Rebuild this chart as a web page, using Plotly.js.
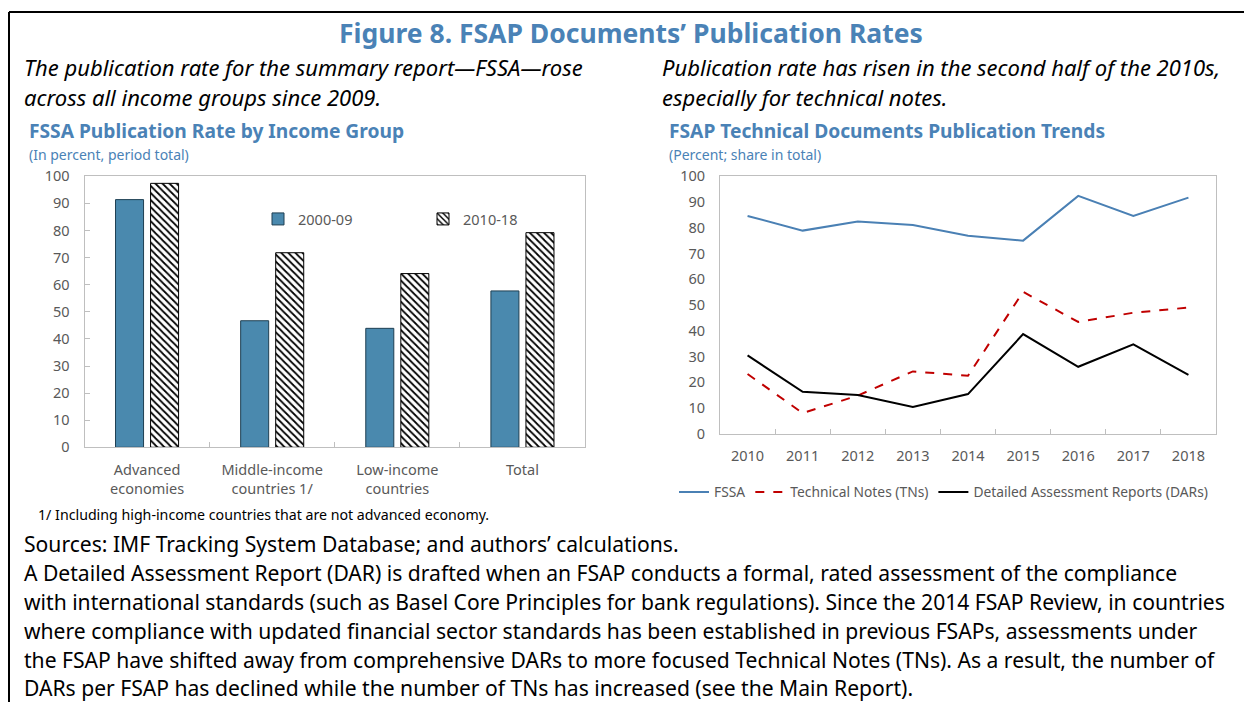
<!DOCTYPE html>
<html>
<head>
<meta charset="utf-8">
<script src="https://cdn.plot.ly/plotly-3.0.1.min.js"></script>
<style>
html,body{margin:0;padding:0;background:#fff;}
#chart{width:1244px;height:702px;}
</style>
</head>
<body>
<div id="chart"></div>
<script>
// ---------- data ----------
var incomeGroups = ["Advanced<br>economies", "Middle-income<br>countries 1/", "Low-income<br>countries", "Total"];
var rate2000_09 = [91.4, 46.7, 43.9, 57.7];
var rate2010_18 = [97.4, 71.8, 64.1, 79.2];

var years = ["2010", "2011", "2012", "2013", "2014", "2015", "2016", "2017", "2018"];
var fssaShare = [84.6, 78.9, 82.4, 81.1, 76.9, 75.0, 92.4, 84.6, 91.7];
var tnShare   = [23.2, 8.0, 14.8, 24.2, 22.5, 55.1, 43.4, 47.0, 49.0];
var darShare  = [30.4, 16.3, 15.0, 10.4, 15.4, 38.7, 26.0, 34.7, 22.9];

var bodyLines = [
  "Sources: IMF Tracking System Database; and authors\u2019 calculations.",
  "A Detailed Assessment Report (DAR) is drafted when an FSAP conducts a formal, rated assessment of the compliance",
  "with international standards (such as Basel Core Principles for bank regulations). Since the 2014 FSAP Review, in countries",
  "where compliance with updated financial sector standards has been established in previous FSAPs, assessments under",
  "the FSAP have shifted away from comprehensive DARs to more focused Technical Notes (TNs). As a result, the number of",
  "DARs per FSAP has declined while the number of TNs has increased (see the Main Report)."
];

// ---------- helpers ----------
var W = 1244, H = 702;
function px(x){ return x / W; }
function py(y){ return 1 - y / H; }
var FONT = "Noto Sans, Open Sans, sans-serif";
var BLUE_T = "#4a82b6";
var GRAY = "#595959";
var FRAME = "#bfbfbf";

var traces = [
  {
    type: "bar", x: incomeGroups, y: rate2000_09, name: "2000-09",
    xaxis: "x", yaxis: "y", legend: "legend",
    marker: {color: "#4a89ae", line: {color: "#1f3f52", width: 1}}
  },
  {
    type: "bar", x: incomeGroups, y: rate2010_18, name: "2010-18",
    xaxis: "x", yaxis: "y", legend: "legend",
    marker: {color: "#ffffff", line: {color: "#000000", width: 1},
             pattern: {shape: "\\", fgcolor: "#000000", bgcolor: "#ffffff", size: 5, solidity: 0.35}}
  },
  {
    type: "scatter", mode: "lines", x: years, y: fssaShare, name: "FSSA",
    xaxis: "x2", yaxis: "y2", legend: "legend2",
    line: {color: "#4a80b4", width: 2}
  },
  {
    type: "scatter", mode: "lines", x: years, y: tnShare, name: "Technical Notes (TNs)",
    xaxis: "x2", yaxis: "y2", legend: "legend2",
    line: {color: "#c00000", width: 2, dash: "dash"}
  },
  {
    type: "scatter", mode: "lines", x: years, y: darShare, name: "Detailed Assessment Reports (DARs)",
    xaxis: "x2", yaxis: "y2", legend: "legend2",
    line: {color: "#000000", width: 2}
  }
];

var annotations = [];
function txt(x, y, text, size, opts){
  opts = opts || {};
  annotations.push({
    xref: "paper", yref: "paper", x: px(x), y: py(y),
    xanchor: opts.xanchor || "left", yanchor: "middle",
    text: text, showarrow: false,
    font: {family: FONT, size: size, color: opts.color || "#000000"}
  });
}
txt(631, 33, "<b>Figure 8. FSAP Documents\u2019 Publication Rates</b>", 26.5, {xanchor: "center", color: BLUE_T});
txt(22, 67, "<i>The publication rate for the summary report\u2014FSSA\u2014rose</i>", 22);
txt(22, 97, "<i>across all income groups since 2009.</i>", 22);
txt(660, 67, "<i>Publication rate has risen in the second half of the 2010s,</i>", 22);
txt(660, 97, "<i>especially for technical notes.</i>", 22);
txt(27, 131, "<b>FSSA Publication Rate by Income Group</b>", 19.2, {color: BLUE_T});
txt(27, 155, "(In percent, period total)", 14, {color: BLUE_T});
txt(667, 131, "<b>FSAP Technical Documents Publication Trends</b>", 19.2, {color: BLUE_T});
txt(667, 154, "(Percent; share in total)", 14, {color: BLUE_T});
txt(36, 514, "1/ Including high-income countries that are not advanced economy.", 14.2);
var bodyY = [543, 572, 601, 630, 659, 687];
for (var i = 0; i < bodyLines.length; i++) { txt(22, bodyY[i], bodyLines[i], 21.1); }

var axisCommon = {
  showline: true, mirror: true, linecolor: FRAME, linewidth: 1,
  showgrid: false, zeroline: false,
  tickfont: {family: FONT, size: 14.5, color: GRAY},
  fixedrange: true
};

var layout = {
  width: W, height: H,
  margin: {l: 0, r: 0, t: 0, b: 0},
  paper_bgcolor: "#ffffff", plot_bgcolor: "#ffffff",
  font: {family: FONT, color: GRAY},
  barmode: "group", bargap: 0.44, bargroupgap: 0.2,
  showlegend: true,
  xaxis: Object.assign({}, axisCommon, {
    domain: [px(84.5), px(585)], anchor: "y", type: "category",
    tickson: "boundaries", ticks: "inside", ticklen: 5, tickcolor: FRAME,
    ticklabelstandoff: 9
  }),
  yaxis: Object.assign({}, axisCommon, {
    domain: [py(447.3), py(176.3)], anchor: "x", range: [0, 100], dtick: 10,
    ticks: "inside", ticklen: 5, tickcolor: FRAME, ticklabelstandoff: 11
  }),
  xaxis2: Object.assign({}, axisCommon, {
    domain: [px(720), px(1216)], anchor: "y2", type: "category", range: [-0.5, 8.5],
    tickson: "boundaries", ticks: "inside", ticklen: 5, tickcolor: FRAME,
    ticklabelstandoff: 9
  }),
  yaxis2: Object.assign({}, axisCommon, {
    domain: [py(433.7), py(176.3)], anchor: "x2", range: [0, 100], dtick: 10,
    ticks: "", ticklabelstandoff: 11
  }),
  legend: {
    orientation: "h", x: px(258), y: py(219), xanchor: "left", yanchor: "middle",
    bgcolor: "rgba(0,0,0,0)", font: {family: FONT, size: 14.5, color: GRAY},
    itemwidth: 30, entrywidth: 120, tracegroupgap: 0
  },
  legend2: {
    orientation: "h", x: px(674), y: py(492), xanchor: "left", yanchor: "middle",
    bgcolor: "rgba(0,0,0,0)", font: {family: FONT, size: 13.8, color: GRAY},
    itemwidth: 30, tracegroupgap: 0
  },
  shapes: [
    {type: "line", xref: "paper", yref: "paper", x0: px(9), x1: 1, y0: py(12), y1: py(12),
     line: {color: "#000000", width: 2}},
    {type: "line", xref: "paper", yref: "paper", x0: px(9), x1: px(9), y0: py(12), y1: 0,
     line: {color: "#000000", width: 2}}
  ],
  annotations: annotations
};

Plotly.newPlot("chart", traces, layout, {displayModeBar: false, staticPlot: true});
</script>
</body>
</html>
